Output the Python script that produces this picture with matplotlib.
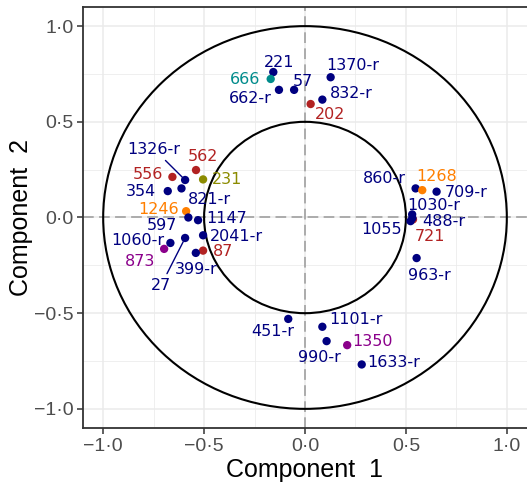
import matplotlib
matplotlib.use("Agg")
import matplotlib.pyplot as plt
from matplotlib.patches import Circle
from matplotlib.ticker import FixedLocator, FuncFormatter

# ---------------- data ----------------
labels = ["1326-r", "562", "556", "231", "354", "821-r", "1246", "597", "1147",
          "2041-r", "87", "399-r", "27", "1060-r", "873",
          "221", "666", "662-r", "57", "1370-r", "202", "832-r",
          "860-r", "1268", "709-r", "721", "1030-r", "488-r", "1055", "963-r",
          "451-r", "1101-r", "990-r", "1350", "1633-r"]
comp1 = [-0.594, -0.540, -0.657, -0.505, -0.680, -0.612, -0.589, -0.578, -0.530,
         -0.505, -0.505, -0.541, -0.594, -0.667, -0.698,
         -0.157, -0.170, -0.129, -0.054, 0.127, 0.028, 0.086,
         0.548, 0.581, 0.652, 0.535, 0.531, 0.532, 0.523, 0.553,
         -0.083, 0.086, 0.107, 0.209, 0.281]
comp2 = [0.196, 0.248, 0.212, 0.199, 0.138, 0.152, 0.033, 0.000, -0.014,
         -0.093, -0.173, -0.185, -0.107, -0.133, -0.164,
         0.760, 0.724, 0.667, 0.667, 0.733, 0.593, 0.616,
         0.152, 0.143, 0.135, -0.010, 0.016, -0.003, -0.019, -0.212,
         -0.530, -0.571, -0.646, -0.667, -0.768]
group = ["navy", "red", "red", "olive", "navy", "navy", "orange", "navy", "navy",
         "navy", "red", "navy", "navy", "navy", "purple",
         "navy", "teal", "navy", "navy", "navy", "red", "navy",
         "navy", "orange", "navy", "red", "navy", "navy", "navy", "navy",
         "navy", "navy", "navy", "purple", "navy"]
tick_values = [-1.0, -0.5, 0.0, 0.5, 1.0]

# ---------------- layout / style ----------------
palette = {"navy": "#000080", "red": "#B22222", "olive": "#8B8B00",
           "orange": "#FF7F00", "teal": "#008B8B", "purple": "#8B008B"}
# label offsets (pixels, label centre relative to point)
label_dx = [-31, 7, -24, 24, -27, 28, -28, -26, 28.5,
            33.5, 20, 0, -24, -33, -24,
            6, -26, -29, 9, 22, 19, 29,
            -31, 14, 30, 17, 22, 31, -29, 13,
            -15, 34, -7, 25, 32]
label_dy = [32, 15, 4, 1, 1, -10, 2.5, -6.5, 3,
            0, 0, -15, -46, 3.5, -11.5,
            11, 1, -7, 10, 13, -9.5, 7,
            11, 15, 0, -16, 10, -2.5, -7, -16,
            -11, 8, -15.5, 4.5, 3]
leader = {"1326-r", "27"}

W, H = 527, 486
fig = plt.figure(figsize=(W / 100, H / 100), dpi=100)
ax = fig.add_axes([83 / W, 58 / H, 444 / W, 421 / H])
ax.set_xlim(-1.1, 1.1)
ax.set_ylim(-1.1, 1.1)

fmt = FuncFormatter(lambda v, p: f"{v:.1f}".replace("-", "\u2212").replace(".", "\u00b7"))
for axis in (ax.xaxis, ax.yaxis):
    axis.set_major_locator(FixedLocator(tick_values))
    axis.set_minor_locator(FixedLocator([-0.75, -0.25, 0.25, 0.75]))
    axis.set_major_formatter(fmt)
ax.grid(True, which="major", color="#EBEBEB", lw=1.1, zorder=0)
ax.grid(True, which="minor", color="#EBEBEB", lw=0.55, zorder=0)
ax.set_axisbelow(True)
ax.tick_params(which="major", direction="out", length=4, width=1.1, color="#333333",
               labelsize=14, labelcolor="#4D4D4D", pad=3)
ax.tick_params(which="minor", length=0)
for lab in ax.get_xticklabels() + ax.get_yticklabels():
    lab.set_family("Liberation Sans")
for s in ["left", "bottom", "top"]:
    ax.spines[s].set_color("#333333")
    ax.spines[s].set_linewidth(1.3)
ax.spines["right"].set_visible(False)

ax.axhline(0, color="#999999", lw=1.1, ls=(0, (7, 3.5)), zorder=1)
ax.axvline(0, color="#999999", lw=1.1, ls=(0, (7, 3.5)), zorder=1)
for r in (1.0, 0.5):
    ax.add_patch(Circle((0, 0), r, fill=False, ec="black", lw=1.5, zorder=2))

for i, name in enumerate(labels):
    c = palette[group[i]]
    ax.scatter([comp1[i]], [comp2[i]], s=36, color=c, edgecolors="none", zorder=3)
for i, name in enumerate(labels):
    c = palette[group[i]]
    kw = {}
    if name in leader:
        kw["arrowprops"] = dict(arrowstyle="-", color=c, lw=1.0, shrinkA=1, shrinkB=3)
    ax.annotate(name, xy=(comp1[i], comp2[i]), xytext=(label_dx[i], label_dy[i] - 5.7),
                textcoords="offset pixels", ha="center", va="baseline",
                color=c, fontsize=11.5, family="DejaVu Sans", zorder=4, **kw)

ax.set_xlabel("Component  1", fontsize=18, family="Liberation Sans", labelpad=2)
ax.set_ylabel("Component  2", fontsize=18, family="Liberation Sans", labelpad=0.5)

fig.savefig("out.png", dpi=100)
